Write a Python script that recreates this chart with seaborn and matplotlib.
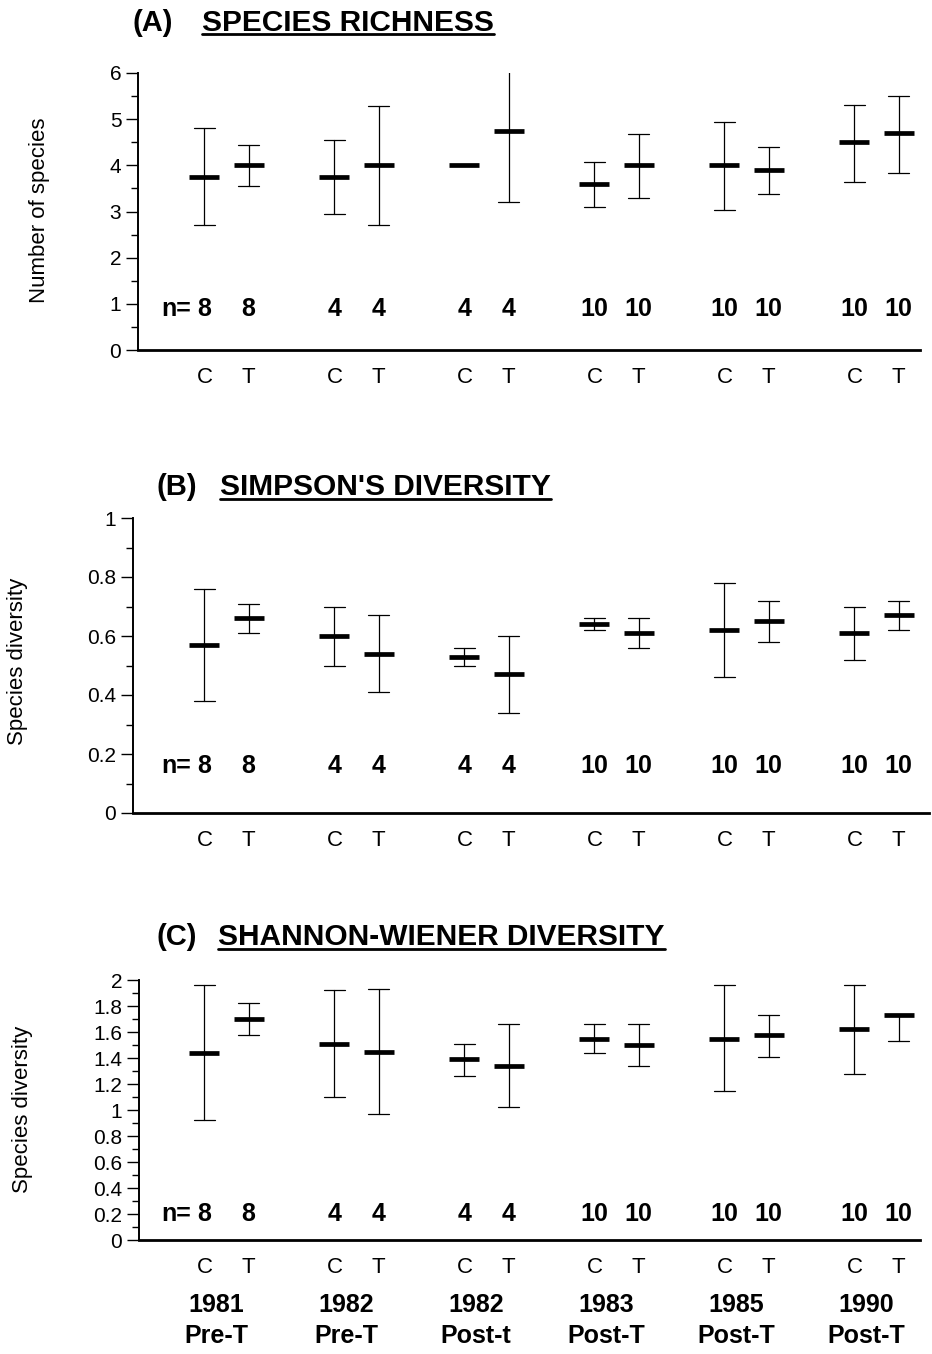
import numpy as np
import pandas as pd
import seaborn as sns
import matplotlib.pyplot as plt
import matplotlib.transforms as mtransforms
from matplotlib.lines import Line2D

# Data (order: C, T for each period)
periods = ["1981\nPre-T", "1982\nPre-T", "1982\nPost-t", "1983\nPost-T", "1985\nPost-T", "1990\nPost-T"]
treatments = ["C", "T"]
n_samples = [8, 4, 4, 10, 10, 10]

richness_mean = [3.75, 4.0, 3.75, 4.0, 4.0, 4.75, 3.6, 4.0, 4.0, 3.9, 4.5, 4.7]
richness_low = [2.7, 3.55, 2.95, 2.7, 4.0, 3.2, 3.1, 3.3, 3.03, 3.37, 3.63, 3.83]
richness_high = [4.8, 4.45, 4.55, 5.28, 4.0, 6.25, 4.08, 4.67, 4.93, 4.4, 5.3, 5.5]

simpson_mean = [0.57, 0.66, 0.60, 0.54, 0.53, 0.47, 0.64, 0.61, 0.62, 0.65, 0.61, 0.67]
simpson_low = [0.38, 0.61, 0.50, 0.41, 0.50, 0.34, 0.62, 0.56, 0.46, 0.58, 0.52, 0.62]
simpson_high = [0.76, 0.71, 0.70, 0.67, 0.56, 0.60, 0.66, 0.66, 0.78, 0.72, 0.70, 0.72]

shannon_mean = [1.44, 1.70, 1.51, 1.45, 1.39, 1.34, 1.55, 1.50, 1.55, 1.58, 1.62, 1.73]
shannon_low = [0.92, 1.58, 1.10, 0.97, 1.26, 1.02, 1.44, 1.34, 1.15, 1.41, 1.28, 1.53]
shannon_high = [1.96, 1.82, 1.92, 1.93, 1.51, 1.66, 1.66, 1.66, 1.96, 1.73, 1.96, 1.73]


def long_table(mean, low, high):
    # three rows per bar: median gives the mean, min/max give the range
    rows = []
    for i, (m, lo, hi) in enumerate(zip(mean, low, high)):
        for v in (lo, m, hi):
            rows.append({"period": periods[i // 2], "treatment": treatments[i % 2], "value": v})
    return pd.DataFrame(rows)


sns.set_style("ticks")
plt.rcParams["font.family"] = ["Liberation Sans", "DejaVu Sans"]
plt.rcParams["text.color"] = "black"
plt.rcParams["xtick.color"] = "black"
plt.rcParams["ytick.color"] = "black"
plt.rcParams["axes.labelcolor"] = "black"

W, H = 932, 1354
fig = plt.figure(figsize=(W / 100, H / 100), dpi=100)


def px_rect(left, right, top, bottom):
    return [left / W, 1 - bottom / H, (right - left) / W, (bottom - top) / H]


# layout per panel (pixel positions of the reference)
panels = [
    dict(tag="(A)", title="SPECIES RICHNESS", ylabel="Number of species",
         df=long_table(richness_mean, richness_low, richness_high),
         ylim=6, major=1, minor=0.5, rect=(138, 920, 73, 350),
         tag_x=133, title_x=202, base_y=31, line_y=34, ylab_xy=(40, 210), n_y=0.88),
    dict(tag="(B)", title="SIMPSON'S DIVERSITY", ylabel="Species diversity",
         df=long_table(simpson_mean, simpson_low, simpson_high),
         ylim=1, major=0.2, minor=0.1, rect=(133, 929, 518, 813),
         tag_x=157, title_x=220, base_y=495, line_y=499, ylab_xy=(18, 661), n_y=0.16),
    dict(tag="(C)", title="SHANNON-WIENER DIVERSITY", ylabel="Species diversity",
         df=long_table(shannon_mean, shannon_low, shannon_high),
         ylim=2, major=0.2, minor=0.1, rect=(139, 920, 980, 1240),
         tag_x=156, title_x=218, base_y=945, line_y=949, ylab_xy=(23, 1109), n_y=0.2),
]

group_px0, group_step = 226.5, 130.0
half_gap = 0.17
title_texts = []

for i, p in enumerate(panels):
    left, right, top, bottom = p["rect"]
    ax = fig.add_axes(px_rect(left, right, top, bottom))
    sns.pointplot(data=p["df"], x="period", y="value", hue="treatment",
                  order=periods, hue_order=treatments,
                  estimator="median", errorbar=("pi", 100),
                  dodge=2 * half_gap, capsize=0.16,
                  palette={"C": "black", "T": "black"},
                  markers="_", linestyles="none",
                  markersize=22, markeredgewidth=3.4,
                  err_kws={"linewidth": 0.9},
                  legend=False, ax=ax)

    ax.set_xlim((left - group_px0) / group_step, (right - group_px0) / group_step)
    ax.set_ylim(0, p["ylim"])
    major = np.arange(0, p["ylim"] + 1e-9, p["major"])
    ax.set_yticks(major)
    ax.set_yticklabels([f"{v:g}" for v in np.round(major, 2)], fontsize=15)
    ax.set_yticks(np.arange(0, p["ylim"] + 1e-9, p["minor"]), minor=True)
    ax.tick_params(axis="y", which="major", length=9, width=1, pad=3)
    ax.tick_params(axis="y", which="minor", length=5, width=1)

    xt = [g + off for g in range(len(periods)) for off in (-half_gap, half_gap)]
    ax.set_xticks(xt)
    ax.set_xticklabels(treatments * len(periods), fontsize=16)
    ax.tick_params(axis="x", which="both", length=0, pad=12)
    ax.set_xlabel("")
    ax.set_ylabel("")

    sns.despine(ax=ax)
    ax.spines["left"].set_linewidth(1.4)
    ax.spines["bottom"].set_linewidth(2.0)
    ax.spines["left"].set_color("black")
    ax.spines["bottom"].set_color("black")

    # sample sizes
    for g, n in enumerate(n_samples):
        for off in (-half_gap, half_gap):
            ax.text(g + off, p["n_y"] * p["ylim"] / p["ylim"], str(n), ha="center", va="center",
                    fontsize=18, fontweight="bold")
    ax.text(-half_gap - 0.1, p["n_y"], "n=", ha="right", va="center",
            fontsize=18, fontweight="bold")

    fig.text(p["ylab_xy"][0] / W, 1 - p["ylab_xy"][1] / H, p["ylabel"],
             rotation=90, ha="center", va="center", fontsize=16)

    fig.text(p["tag_x"] / W, 1 - p["base_y"] / H, p["tag"], ha="left", va="baseline",
             fontsize=21, fontweight="bold")
    t = fig.text(p["title_x"] / W, 1 - p["base_y"] / H, p["title"], ha="left",
                 va="baseline", fontsize=21.5, fontweight="bold")
    title_texts.append((t, p["line_y"]))

    if i == len(panels) - 1:
        trans = mtransforms.blended_transform_factory(ax.transData, ax.transAxes)
        for g, label in enumerate(periods):
            ax.text(g - 0.08, -0.31, label, transform=trans, ha="center", va="center",
                    fontsize=18, fontweight="bold", linespacing=1.35)

# underline the panel titles
fig.canvas.draw()
renderer = fig.canvas.get_renderer()
for t, line_y in title_texts:
    bb = t.get_window_extent(renderer)
    y = 1 - line_y / H
    fig.add_artist(Line2D([bb.x0 / fig.bbox.width, bb.x1 / fig.bbox.width], [y, y],
                          transform=fig.transFigure, color="black", linewidth=2.0))

fig.savefig("out.png", dpi=100, facecolor="white")
